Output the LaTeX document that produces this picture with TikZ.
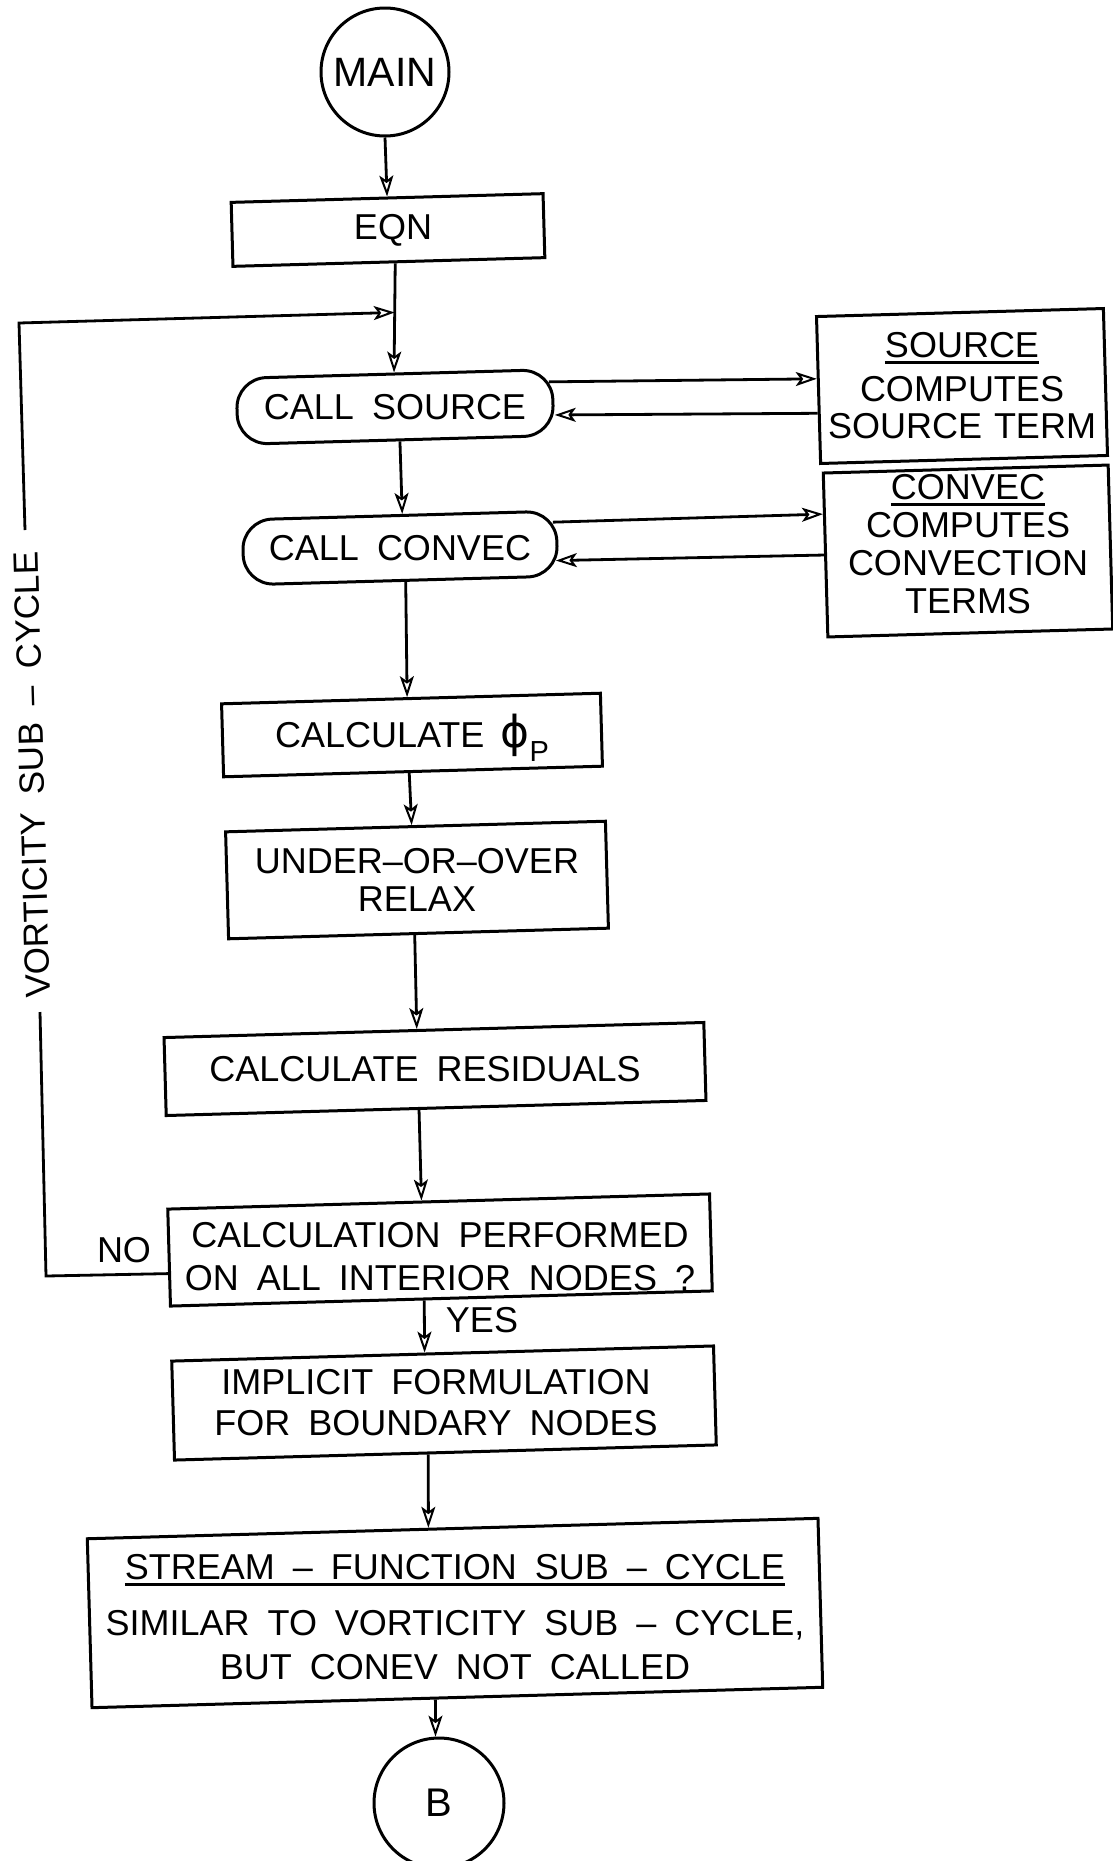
\documentclass[tikz,border=0pt]{standalone}
\usepackage{fontspec}
\setmainfont{Liberation Sans}[WordSpace=1.8]
\newfontfamily\dejavu{DejaVu Sans}
\usetikzlibrary{arrows.meta,calc}
\newcommand\ulw[1]{\vtop{\hbox{#1}\kern3pt\hrule height 2.8pt}}
\begin{document}
\begin{tikzpicture}[x=1pt,y=-1pt,
  every node/.style={font=\fontsize{36}{38}\selectfont, inner sep=0pt},
  tilt/.style={rotate=1.6},
  box/.style={draw, line width=3pt, rectangle, tilt},
  term/.style={box, rounded corners=30pt},
  txt/.style={align=center},
  conn/.style={draw, line width=2.8pt},
  arr/.style={conn, -{Stealth[open,length=21pt,width=14pt,inset=5pt,line width=2pt]}},
  circ/.style={draw, circle, line width=3pt, inner sep=0pt}
]
\useasboundingbox (0,0) rectangle (1113,1861);

% shapes
\node[circ, minimum size=128pt, font=\fontsize{41}{41}\selectfont] (main) at (385,72) {MAIN};
\node[box, minimum width=312pt, minimum height=64pt] (eqn) at (388,230) {};
\node[term, minimum width=316pt, minimum height=66pt] (csrc) at (395,407) {};
\node[term, minimum width=314pt, minimum height=65pt] (ccon) at (400,548) {};
\node[box, minimum width=287pt, minimum height=147pt] (src) at (962,386) {};
\node[box, minimum width=285pt, minimum height=164pt] (cnv) at (968,551) {};
\node[box, minimum width=379pt, minimum height=73pt] (phi) at (412,735) {};
\node[box, minimum width=380pt, minimum height=107pt] (relax) at (417,880) {};
\node[box, minimum width=540pt, minimum height=78pt] (resid) at (435,1069) {};
\node[box, minimum width=542pt, minimum height=97pt] (perf) at (440,1250) {};
\node[box, minimum width=542pt, minimum height=99pt] (impl) at (444,1403) {};
\node[box, minimum width=731pt, minimum height=169pt] (strm) at (455,1613) {};
\node[circ, minimum size=130pt, font=\fontsize{40}{40}\selectfont] (b) at (439,1803) {B};

% texts of the boxes
\node[txt, xshift=5pt] (eqn-t) at (eqn) {EQN};
\node[txt] (csrc-t) at (csrc) {CALL SOURCE};
\node[txt] (ccon-t) at (ccon) {CALL CONVEC};
\node[txt, font=\fontsize{36}{37}\selectfont] (src-t) at (src)
  {\ulw{SOURCE}\\[7pt] COMPUTES\\ SOURCE\hspace{12pt}TERM};
\node[txt, yshift=6.5pt] (cnv-t) at (cnv) {\ulw{CONVEC}\\ COMPUTES\\ CONVECTION\\ TERMS};
\node[txt] (phi-t) at (phi)
  {CALCULATE\hspace{16pt}\smash{{\dejavu\fontsize{44}{44}\selectfont ϕ}\raisebox{-14pt}{\fontsize{29}{29}\selectfont P}}};
\node[txt] (relax-t) at (relax) {UNDER–OR–OVER\\ RELAX};
\node[txt, xshift=-10pt] (resid-t) at (resid) {CALCULATE RESIDUALS};
\node[txt, yshift=-6.5pt, font=\fontsize{36}{43}\selectfont] (perf-t) at (perf)
  {CALCULATION PERFORMED\\ ON ALL INTERIOR NODES ?};
\node[txt, xshift=-8pt, font=\fontsize{36}{41}\selectfont] (impl-t) at (impl)
  {IMPLICIT FORMULATION\\ FOR BOUNDARY NODES};
\node[txt, yshift=-4pt, font=\fontsize{36}{44}\selectfont] (strm-t) at (strm)
  {\ulw{STREAM – FUNCTION SUB – CYCLE}\\[12pt] SIMILAR TO VORTICITY SUB – CYCLE,\\ BUT CONEV NOT CALLED};

% labels
\node (no) at (124,1250) {NO};
\node (yes) at (482,1320) {YES};
\node[rotate=91.6, font=\fontsize{35}{35}\selectfont] (vlab) at (32,775) {VORTICITY SUB – CYCLE};

% main flow
\draw[arr] (main.south) -- (eqn.north);
\coordinate (e1) at ($(eqn.south)!0.04!(eqn.south east)$);
\coordinate (j) at ($(e1)!0.45!(csrc.north)$);
\draw[arr] (e1) -- (csrc.north);
\draw[arr] ($(csrc.south)!0.025!(csrc.south east)$) -- ($(ccon.north)!0.02!(ccon.north east)$);
\draw[arr] ($(ccon.south)!0.03!(ccon.south east)$) -- ($(phi.north)!0.02!(phi.north west)$);
\draw[arr] ($(phi.south)!0.02!(phi.south west)$) -- ($(relax.north)!0.02!(relax.north west)$);
\draw[arr] ($(relax.south)!0.02!(relax.south west)$) -- ($(resid.north)!0.063!(resid.north west)$);
\draw[arr] ($(resid.south)!0.063!(resid.south west)$) -- ($(perf.north)!0.063!(perf.north west)$);
\draw[arr] ($(perf.south)!0.063!(perf.south west)$) -- ($(impl.north)!0.066!(impl.north west)$);
\draw[arr] ($(impl.south)!0.063!(impl.south west)$) -- ($(strm.north)!0.066!(strm.north west)$);
\draw[arr] ($(strm.south)!0.06!(strm.south west)$) -- (b.93);

% side calls
\draw[arr] ($(csrc.east)!0.6!(csrc.north east)+(-5,0)$) -- ($(src.west)!0.15!(src.north west)$);
\draw[arr] ($(src.west)!0.31!(src.south west)$) -- ($(csrc.east)!0.36!(csrc.south east)$);
\draw[arr] ($(ccon.east)!0.63!(ccon.north east)+(-5,0)$) -- ($(cnv.west)!0.49!(cnv.north west)$);
\draw[arr] (cnv.west) -- ($(ccon.east)!0.5!(ccon.south east)+(-3,0)$);

% vorticity sub-cycle loop
\coordinate (lb) at (46,1276);
\coordinate (lb2) at (40,1012);
\coordinate (lt2) at (25,530);
\coordinate (lt) at (19,323);
\draw[conn] ($(perf.west)!0.32!(perf.south west)$) -- (lb) -- (lb2);
\draw[arr] (lt2) -- (lt) -- (j);
\end{tikzpicture}
\end{document}
